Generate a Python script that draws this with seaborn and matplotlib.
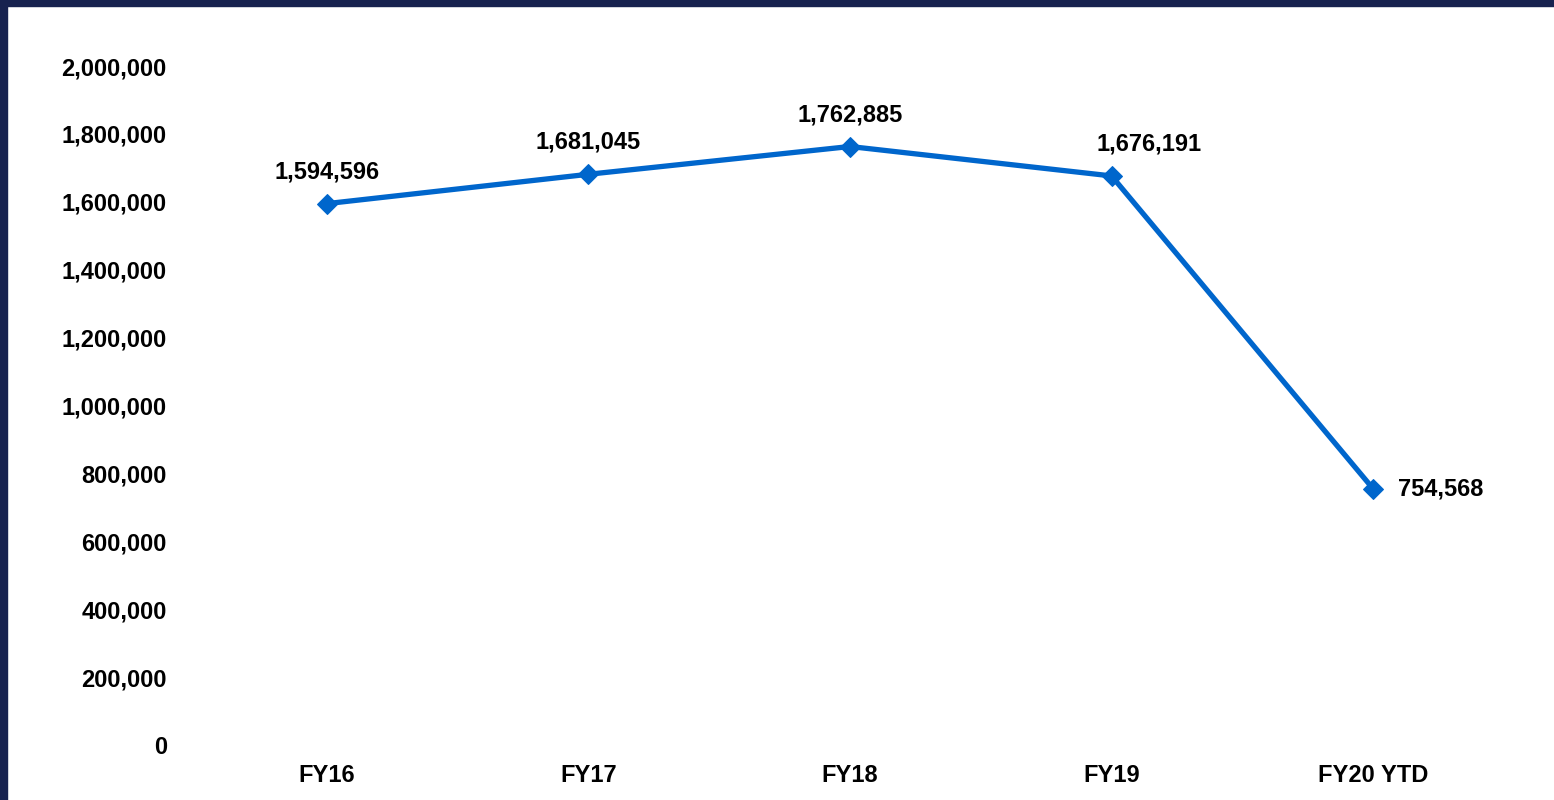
import matplotlib
matplotlib.use("Agg")
import matplotlib.pyplot as plt
import seaborn as sns
import pandas as pd
from matplotlib.patches import Rectangle
from matplotlib.ticker import FuncFormatter

# Values
years = ["FY16", "FY17", "FY18", "FY19", "FY20 YTD"]
totals = [1594596, 1681045, 1762885, 1676191, 754568]

df = pd.DataFrame({"Year": years, "Total": totals})

sns.set_style("white")
plt.rcParams["font.family"] = ["Liberation Sans", "DejaVu Sans"]
plt.rcParams["font.weight"] = "bold"
plt.rcParams["text.color"] = "black"
plt.rcParams["xtick.color"] = "black"
plt.rcParams["ytick.color"] = "black"

line_color = "#0066CC"
navy = "#17224F"

fig = plt.figure(figsize=(15.54, 8), dpi=100)
ax = fig.add_axes([0.1261, 0.06875, 0.8417, 0.84875])

sns.lineplot(data=df, x="Year", y="Total", ax=ax, color=line_color,
             linewidth=3.8, marker="D", markersize=10, markeredgecolor=line_color,
             sort=False)

ax.set_xlim(-0.5, len(years) - 0.5)
ax.set_ylim(0, 2000000)
ax.set_yticks(range(0, 2000001, 200000))
ax.yaxis.set_major_formatter(FuncFormatter(lambda v, p: f"{int(v):,}"))
ax.set_xlabel("")
ax.set_ylabel("")
ax.tick_params(axis="y", length=0, pad=21, labelsize=17, labelcolor="black")
ax.tick_params(axis="x", length=0, pad=14, labelsize=17, labelcolor="black")
for lab in ax.get_xticklabels() + ax.get_yticklabels():
    lab.set_fontweight("bold")
sns.despine(ax=ax, left=True, bottom=True)

# data labels
for i, (yr, val) in enumerate(zip(years, totals)):
    if i == len(years) - 1:
        ax.annotate(f"{val:,}", (i, val), xytext=(18, 0), textcoords="offset points",
                    ha="left", va="center", fontsize=17, fontweight="bold", color="black")
    elif i == 3:
        ax.annotate(f"{val:,}", (i, val), xytext=(27, 23), textcoords="offset points",
                    ha="center", va="center", fontsize=17, fontweight="bold", color="black")
    else:
        ax.annotate(f"{val:,}", (i, val), xytext=(0, 23), textcoords="offset points",
                    ha="center", va="center", fontsize=17, fontweight="bold", color="black")

# dark frame along top and left edge
fig.add_artist(Rectangle((0, 1 - 6 / 800), 1, 6 / 800, transform=fig.transFigure,
                         color=navy, zorder=10))
fig.add_artist(Rectangle((0, 0), 7 / 1554, 1, transform=fig.transFigure,
                         color=navy, zorder=10))

plt.savefig("out.png", dpi=100)
